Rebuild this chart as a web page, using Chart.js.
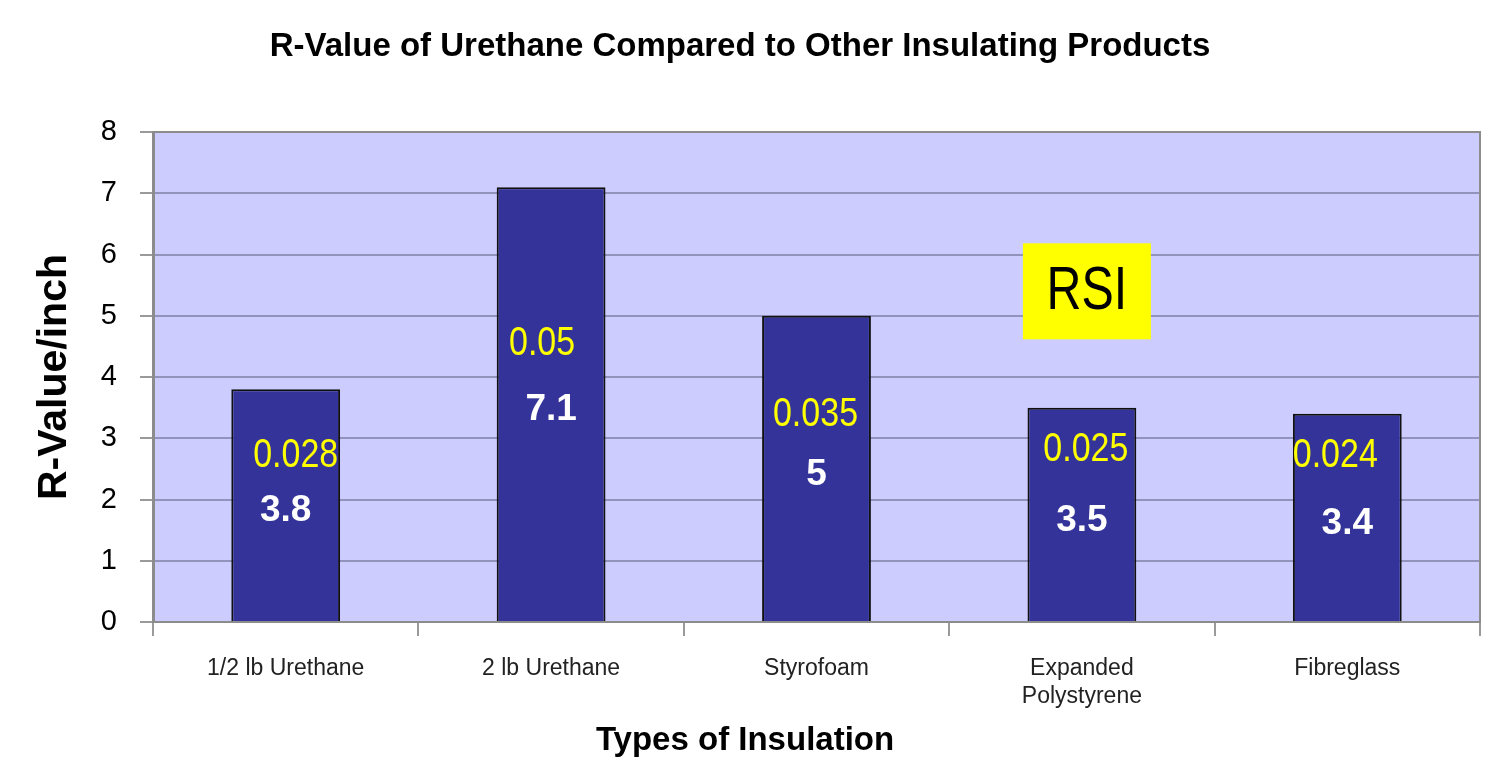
<!DOCTYPE html>
<html>
<head>
<meta charset="utf-8">
<title>R-Value of Urethane</title>
<script src="https://cdn.jsdelivr.net/npm/chart.js@4.4.1/dist/chart.umd.min.js"></script>
<style>
  html, body { margin: 0; padding: 0; background: #fff; }
  canvas { display: block; }
</style>
</head>
<body>
<canvas id="rvalueChart" width="1494" height="783"></canvas>
<script>
"use strict";

// insulation types (multi-line labels as arrays)
const categories = ['1/2 lb Urethane', '2 lb Urethane', 'Styrofoam', ['Expanded', 'Polystyrene'], 'Fibreglass'];
// R-value per inch
const rValues = [3.8, 7.1, 5, 3.5, 3.4];
// metric RSI equivalents written on the bars
const rsiValues = [0.028, 0.05, 0.035, 0.025, 0.024];
const yTicks = [0, 1, 2, 3, 4, 5, 6, 7, 8];
const xAxisTitle = 'Types of Insulation';

const FONT = "'Liberation Sans', Arial, sans-serif";

// lavender plot background, grey frame on top/right, x axis title centred on the page
const plotFrame = {
    id: 'plotFrame',
    beforeDraw(chart) {
        const {ctx, chartArea: a} = chart;
        ctx.save();
        ctx.fillStyle = '#ccccff';
        ctx.fillRect(a.left, a.top, a.right - a.left, a.bottom - a.top);
        ctx.restore();
    },
    afterDraw(chart) {
        const {ctx, chartArea: a} = chart;
        ctx.save();
        ctx.strokeStyle = '#8c8c8c';
        ctx.lineWidth = 2;
        ctx.beginPath();
        ctx.moveTo(a.left, a.top);
        ctx.lineTo(a.right, a.top);
        ctx.lineTo(a.right, a.bottom);
        ctx.stroke();

        ctx.fillStyle = '#000';
        ctx.font = 'bold 33px ' + FONT;
        ctx.textAlign = 'center';
        ctx.textBaseline = 'middle';
        ctx.fillText(xAxisTitle, chart.width / 2 - 2, chart.height - 42);
        ctx.restore();
    }
};

// white value labels in the bars, yellow RSI labels above them, and the RSI key box
const barLabels = {
    id: 'barLabels',
    afterDatasetsDraw(chart) {
        const {ctx} = chart;
        const bars = chart.getDatasetMeta(0).data;
        const yScale = chart.scales.y;
        const nudge = [[10, -52], [-9, -63], [-1, -56], [4, -67], [-12, -64]];

        ctx.save();
        ctx.textAlign = 'center';
        ctx.textBaseline = 'middle';

        bars.forEach((bar, i) => {
            const midY = (bar.y + bar.base) / 2;
            ctx.fillStyle = '#ffffff';
            ctx.font = 'bold 37px ' + FONT;
            ctx.fillText(String(rValues[i]), bar.x, midY + 6);

            ctx.save();
            ctx.translate(bar.x + nudge[i][0], midY + nudge[i][1] + 3);
            ctx.scale(0.85, 1);
            ctx.fillStyle = '#ffff00';
            ctx.font = '40px ' + FONT;
            ctx.fillText(String(rsiValues[i]), 0, 0);
            ctx.restore();
        });

        // key box
        const kx = bars[3].x + 5;
        const ky = yScale.getPixelForValue(5.4);
        ctx.fillStyle = '#ffff00';
        ctx.fillRect(kx - 64, ky - 48, 128, 96);
        ctx.translate(kx, ky + 1);
        ctx.scale(0.78, 1);
        ctx.fillStyle = '#000000';
        ctx.font = '62px ' + FONT;
        ctx.fillText('RSI', 0, 0);
        ctx.restore();
    }
};

const ctx = document.getElementById('rvalueChart').getContext('2d');

new Chart(ctx, {
    type: 'bar',
    data: {
        labels: categories,
        datasets: [{
            data: rValues,
            backgroundColor: '#333399',
            borderColor: '#111111',
            borderWidth: 2,
            barPercentage: 0.41,
            categoryPercentage: 1.0
        }]
    },
    options: {
        responsive: false,
        animation: false,
        layout: {
            padding: {left: 0, right: 14, top: 0, bottom: 0}
        },
        plugins: {
            legend: {display: false},
            tooltip: {enabled: false},
            title: {
                display: true,
                text: 'R-Value of Urethane Compared to Other Insulating Products',
                color: '#000',
                font: {family: FONT, size: 33, weight: 'bold'},
                padding: {top: 27, bottom: 65.5}
            }
        },
        scales: {
            x: {
                afterFit(scale) { scale.height = 161; },
                grid: {
                    offset: true,
                    drawOnChartArea: false,
                    drawTicks: true,
                    tickLength: 14,
                    tickColor: '#9a9a9a',
                    lineWidth: 2
                },
                border: {display: true, color: '#8c8c8c', width: 2},
                ticks: {
                    color: '#222',
                    font: {family: FONT, size: 23, lineHeight: 1.2},
                    padding: 19,
                    maxRotation: 0,
                    autoSkip: false
                },
                title: {display: false}
            },
            y: {
                min: yTicks[0],
                max: yTicks[yTicks.length - 1],
                afterFit(scale) { scale.width = 153; },
                afterBuildTicks(scale) {
                    scale.ticks = yTicks.map(v => ({value: v}));
                },
                grid: {
                    color: 'rgba(60,60,90,0.4)',
                    lineWidth: 2,
                    tickLength: 13,
                    tickColor: '#9a9a9a'
                },
                border: {display: true, color: '#8c8c8c', width: 3},
                ticks: {
                    color: '#000',
                    font: {family: FONT, size: 29},
                    padding: 23
                },
                title: {
                    display: true,
                    text: 'R-Value/inch',
                    color: '#000',
                    font: {family: FONT, size: 41, weight: 'bold'},
                    padding: {top: 30, bottom: 0}
                }
            }
        }
    },
    plugins: [plotFrame, barLabels]
});
</script>
</body>
</html>
